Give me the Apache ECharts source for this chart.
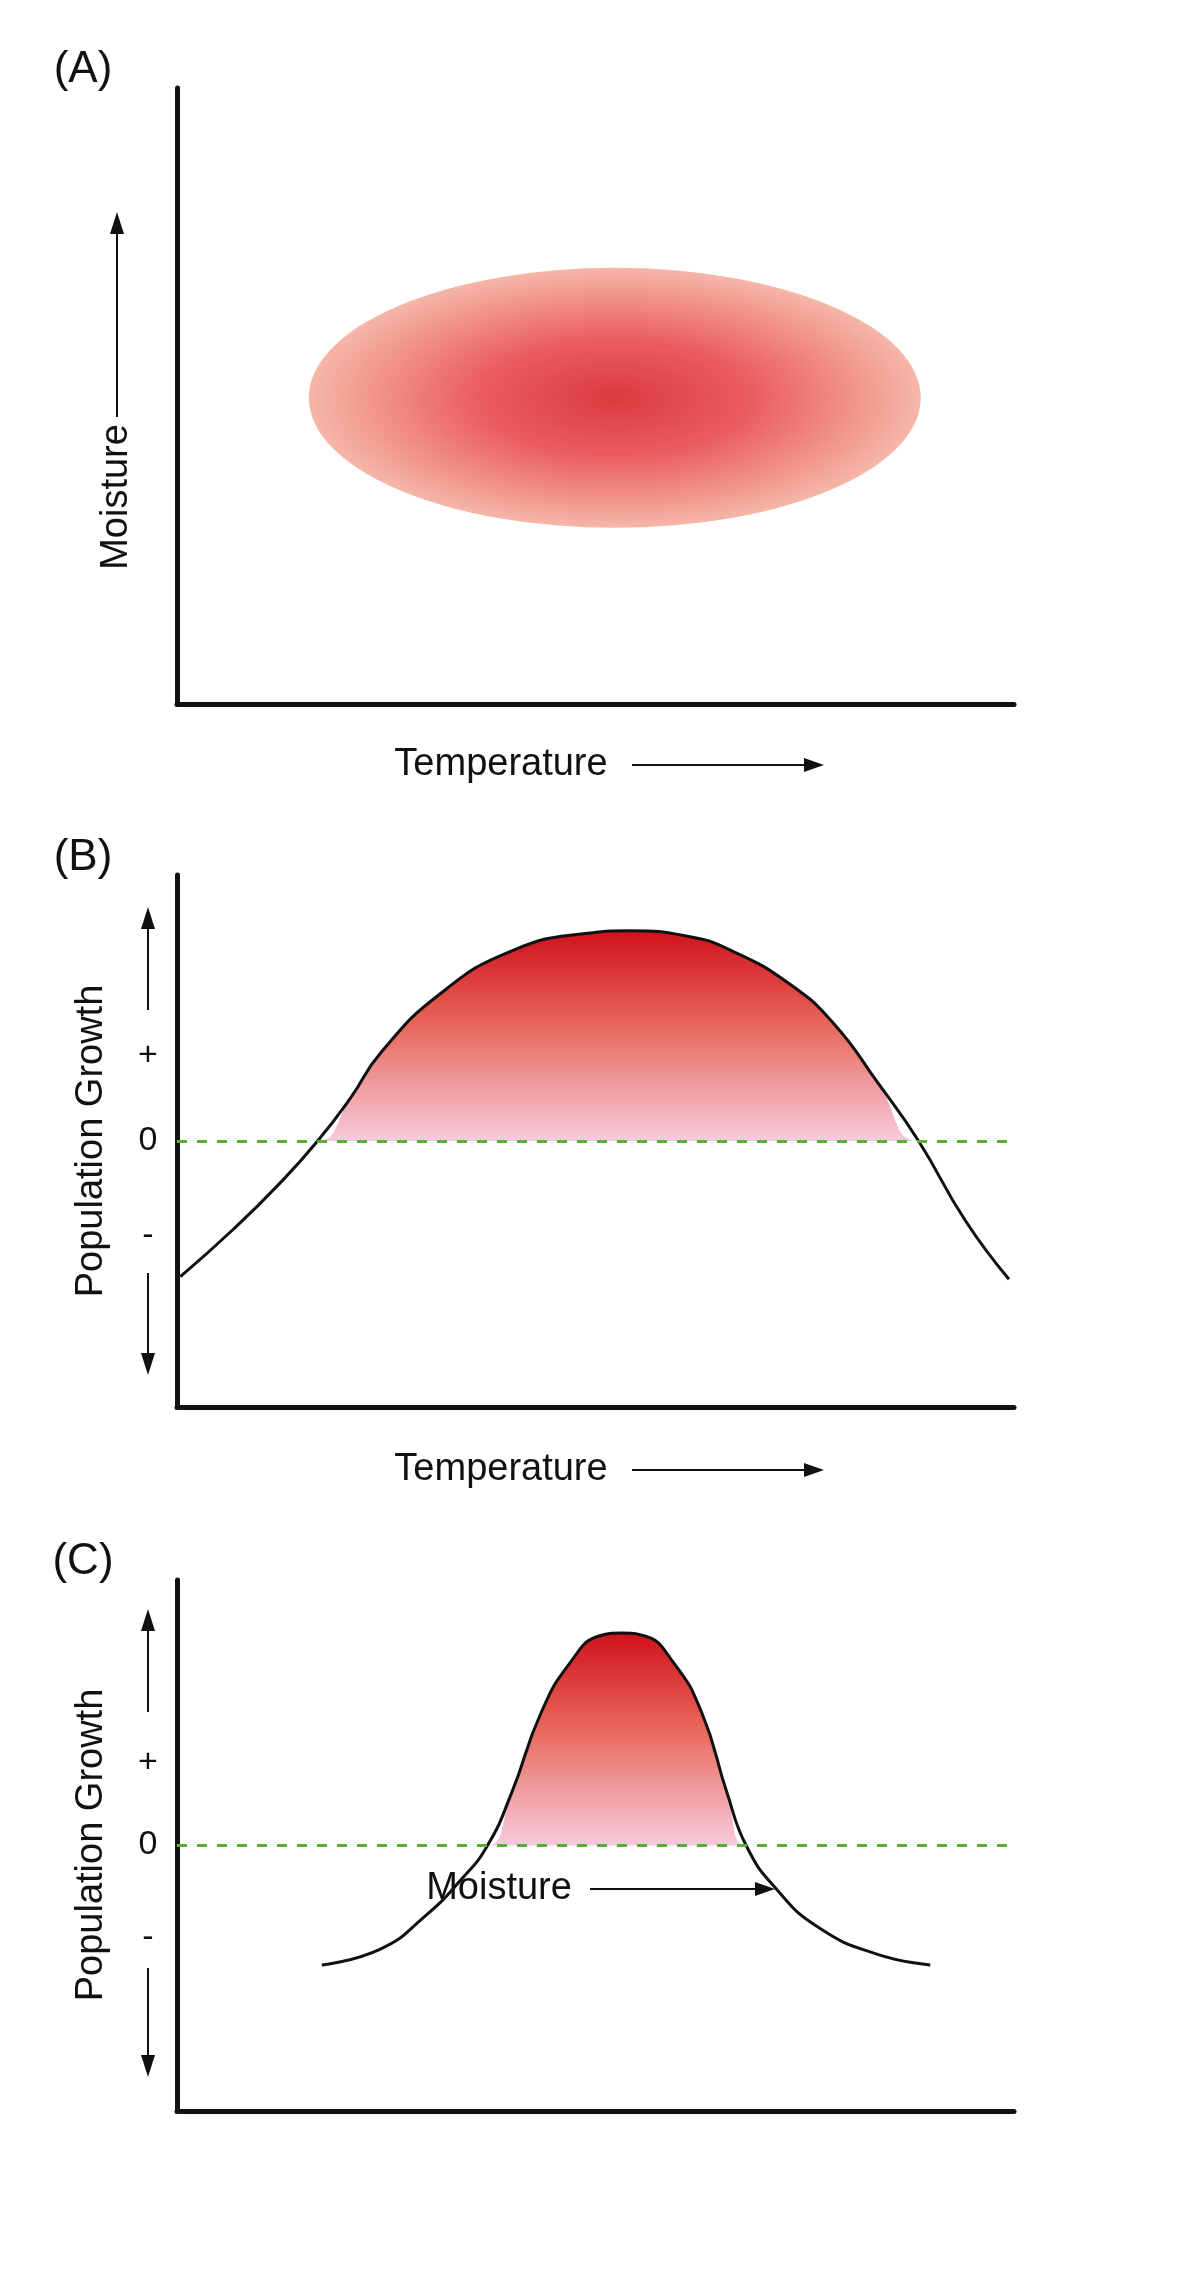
<!DOCTYPE html>
<html>
<head>
<meta charset="utf-8">
<script src="https://cdn.jsdelivr.net/npm/echarts@6/dist/echarts.min.js"></script>
<style>html,body{margin:0;padding:0;background:#fff}#main{width:1200px;height:2294px}</style>
</head>
<body>
<div id="main"></div>
<script>
// panel A: niche centre (temperature, moisture) on 0-100 scales
var nicheCentre = [52.3, 49.7];
// panel B: population growth vs temperature
var tempX = [0.4, 6.8, 12.1, 16.8, 20.8, 24.3, 31.3, 40.0, 48.8, 54.0, 61.0, 66.3, 73.2, 78.5, 83.7, 88.6, 94.2, 99.4];
var tempGrowth = [-5.1, -3.3, -1.65, 0, 1.65, 3.3, 5.5, 7.15, 7.8, 7.9, 7.7, 7.15, 5.9, 4.4, 2.2, 0, -3.0, -5.2];
// panel C: population growth vs moisture
var moistX = [17.3, 24.3, 29.5, 33.9, 37.1, 40.0, 43.5, 47.0, 50.5, 53.1, 55.8, 59.3, 62.7, 65.7, 68.0, 71.5, 76.7, 83.7, 90.0];
var moistGrowth = [-4.5, -3.9, -2.7, -1.3, 0, 2.0, 5.0, 6.9, 7.9, 8.0, 7.9, 6.9, 5.0, 2.0, 0, -1.6, -3.1, -4.1, -4.5];
var signLabels = ['+', '0', '-'];

var font = '"Liberation Sans", Arial, sans-serif';
var chart = echarts.init(document.getElementById('main'));

function pairs(xs, ys, clamp) {
    return xs.map(function (x, i) { return [x, clamp ? Math.max(0, ys[i]) : ys[i]]; });
}
function axisX(idx) {
    return { gridIndex: idx, type: 'value', min: 0, max: 100, axisLabel: { show: false }, axisTick: { show: false },
        splitLine: { show: false }, axisLine: { show: true, onZero: false, lineStyle: { color: '#111', width: 5 } } };
}
function axisY(idx, min, max) {
    return { gridIndex: idx, type: 'value', min: min, max: max, axisLabel: { show: false }, axisTick: { show: false },
        splitLine: { show: false }, axisLine: { show: true, onZero: false, lineStyle: { color: '#111', width: 5 } } };
}
var redFill = new echarts.graphic.LinearGradient(0, 0, 0, 1, [
    { offset: 0, color: '#d0121a' }, { offset: 0.45, color: '#e8675a' }, { offset: 1, color: '#f7cbdc' }]);
var zeroLine = { silent: true, symbol: 'none', label: { show: false },
    lineStyle: { color: '#5aad3c', type: [10, 10], width: 3 }, data: [{ yAxis: 0 }] };

// text and arrow helpers
function txt(x, y, s, size, rot) {
    return { type: 'text', x: x, y: y, rotation: rot || 0,
        style: { text: s, font: size + 'px ' + font, fill: '#111', align: 'center', verticalAlign: 'middle' } };
}
function hArrow(x1, x2, y) {
    return [{ type: 'line', shape: { x1: x1, y1: y, x2: x2 - 14, y2: y }, style: { stroke: '#111', lineWidth: 2 } },
        { type: 'polygon', shape: { points: [[x2, y], [x2 - 20, y - 7], [x2 - 20, y + 7]] }, style: { fill: '#111' } }];
}
function vArrow(x, y1, tip) {
    var d = tip < y1 ? -1 : 1;
    return [{ type: 'line', shape: { x1: x, y1: y1, x2: x, y2: tip - d * 14 }, style: { stroke: '#111', lineWidth: 2 } },
        { type: 'polygon', shape: { points: [[x, tip], [x - 7, tip - d * 22], [x + 7, tip - d * 22]] }, style: { fill: '#111' } }];
}
function growthAxis(top0, zeroY, plusY, minusY, upTip, upEnd, downStart, downTip) {
    return [txt(92, zeroY, 'Population Growth', 38, Math.PI / 2),
        txt(148, plusY, signLabels[0], 34), txt(148, zeroY, signLabels[1], 34), txt(148, minusY, signLabels[2], 34)]
        .concat(vArrow(148, upEnd, upTip)).concat(vArrow(148, downStart, downTip));
}

var graphics = [txt(83, 70, '(A)', 44), txt(83, 858, '(B)', 44), txt(83, 1562, '(C)', 44),
    txt(117, 497, 'Moisture', 38, Math.PI / 2), txt(501, 765, 'Temperature', 38), txt(501, 1470, 'Temperature', 38),
    txt(499, 1889, 'Moisture', 38)]
    .concat(vArrow(117, 417, 212))
    .concat(hArrow(632, 824, 765)).concat(hArrow(632, 824, 1470)).concat(hArrow(590, 775, 1889))
    .concat(growthAxis(875, 1141, 1056, 1236, 907, 1010, 1273, 1375))
    .concat(growthAxis(1580, 1845, 1763, 1938, 1609, 1712, 1968, 2077));

chart.setOption({
    animation: false,
    grid: [
        { left: 177, right: 186, top: 88, bottom: 1590 },
        { left: 177, right: 186, top: 875, bottom: 887 },
        { left: 177, right: 186, top: 1580, bottom: 183 }
    ],
    xAxis: [axisX(0), axisX(1), axisX(2)],
    yAxis: [axisY(0, 0, 100), axisY(1, -10, 10), axisY(2, -10, 10)],
    series: [
        { type: 'scatter', xAxisIndex: 0, yAxisIndex: 0, data: [nicheCentre], symbol: 'circle', symbolSize: [612, 260],
            itemStyle: { color: new echarts.graphic.RadialGradient(0.5, 0.5, 0.5, [
                { offset: 0, color: '#d00a10' }, { offset: 0.45, color: '#e6343a' }, { offset: 1, color: '#f3a592' }]) } },
        { type: 'line', xAxisIndex: 1, yAxisIndex: 1, data: pairs(tempX, tempGrowth, true), smooth: true, symbol: 'none',
            lineStyle: { width: 0 }, areaStyle: { color: redFill, opacity: 1, origin: 0 }, markLine: zeroLine },
        { type: 'line', xAxisIndex: 1, yAxisIndex: 1, data: pairs(tempX, tempGrowth), smooth: true, symbol: 'none',
            lineStyle: { color: '#111', width: 3 } },
        { type: 'line', xAxisIndex: 2, yAxisIndex: 2, data: pairs(moistX, moistGrowth, true), smooth: true, symbol: 'none',
            lineStyle: { width: 0 }, areaStyle: { color: redFill, opacity: 1, origin: 0 }, markLine: zeroLine },
        { type: 'line', xAxisIndex: 2, yAxisIndex: 2, data: pairs(moistX, moistGrowth), smooth: true, symbol: 'none',
            lineStyle: { color: '#111', width: 3 } }
    ],
    graphic: graphics
});
</script>
</body>
</html>
